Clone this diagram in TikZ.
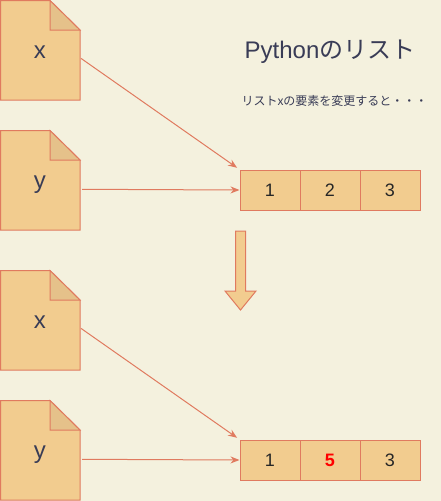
\documentclass[tikz,border=0pt]{standalone}
\usepackage{fontspec}
\setmainfont{Liberation Sans}
\newfontfamily\jpfont{Noto Sans CJK JP}
\definecolor{paper}{HTML}{F4F1DE}
\definecolor{sand}{HTML}{F2CC8F}
\definecolor{folded}{HTML}{E5C18A}
\definecolor{coral}{HTML}{E07A5F}
\definecolor{ink}{HTML}{393C56}
\usetikzlibrary{arrows.meta}
\tikzset{
  pagebox/.style={minimum width=80pt,minimum height=100pt,inner sep=0pt,text=ink,text height=18pt,text depth=1pt,font=\fontsize{24}{24}\selectfont},
  cellbox/.style={draw=coral,fill=sand,line width=1pt,minimum width=60pt,minimum height=40pt,inner sep=0pt,text=black!85,font=\fontsize{18}{18}\selectfont},
  link/.style={draw=coral,line width=1pt,-{Stealth[length=9pt,width=7pt]}},
}

\begin{document}
\begin{tikzpicture}[x=1pt,y=-1pt]
        \useasboundingbox[fill=paper] (0,0) rectangle (441,501);
        % pages
        \foreach \name/\top/\label in {xa/0/x,ya/130/y,xb/270/x,yb/400/y} {
          \draw[coral,fill=sand,line width=1pt] (0.5,\top+0.5) -- (50,\top+0.5) -- (80,\top+30) -- (80,\top+100) -- (0.5,\top+100) -- cycle;
          \draw[coral,fill=folded,line width=1pt] (50,\top+0.5) -- (80,\top+30) -- (50,\top+30) -- cycle;
          \node[pagebox] (\name) at (40,\top+50) {\label};
        }
        % lists
        \node[cellbox] (a1) at (270,190) {1};
        \node[cellbox] (a2) at (330,190) {2};
        \node[cellbox] (a3) at (390,190) {3};
        \node[cellbox] (b1) at (270,460) {1};
        \node[cellbox,text=red,font=\fontsize{18}{18}\selectfont\bfseries] (b2) at (330,460) {5};
        \node[cellbox] (b3) at (390,460) {3};
        % links
        \draw[link,shorten <=1pt,shorten >=3pt] (xa.-11) -- (a1.north west);
        \draw[link,shorten <=2pt] (ya.-13) -- (a1.west);
        \draw[link,shorten <=1pt,shorten >=3pt] (xb.-11) -- (b1.north west);
        \draw[link,shorten <=2pt] (yb.-13) -- (b1.west);
        % down arrow
        \draw[coral,fill=sand,line width=1pt] (235.5,231) -- (245.5,231) -- (245.5,291) -- (256,291) -- (240.5,310) -- (225,291) -- (235.5,291) -- cycle;
        % texts
        \node[text=ink,inner sep=0pt,font=\fontsize{24}{24}\selectfont] (title) at (330,52) {Python{\jpfont のリスト}};
        \node[text=ink,inner sep=0pt,font=\fontsize{12}{12}\selectfont] (note) at (334.5,101) {\jpfont リストxの要素を変更すると・・・};
\end{tikzpicture}
\end{document}
